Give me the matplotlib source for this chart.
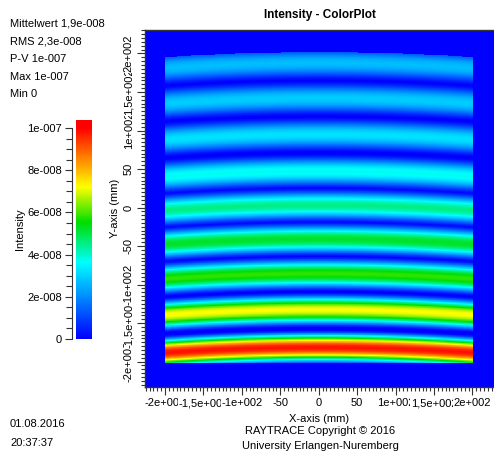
import numpy as np
import matplotlib
matplotlib.use('Agg')
import matplotlib.pyplot as plt
from matplotlib.colors import LinearSegmentedColormap, Normalize
from matplotlib.ticker import MultipleLocator, FixedLocator

plt.rcParams['font.family'] = ['Liberation Sans', 'DejaVu Sans']

W, H = 494, 453

# fringe centres (mm, on the x=0 line) and their peak intensity
fringe_y = [188, 142, 95, 47, 3, -41, -86, -133, -182]
fringe_peak = [2.7e-8, 2.9e-8, 3.2e-8, 3.7e-8, 4.5e-8, 5.2e-8, 5.8e-8, 7.2e-8, 9.8e-8]
fringe_period = 46.0
bow = 1.65e-4          # fringe sag towards the x edges (mm per mm^2)
field_half = 200.0     # illuminated square, +-200 mm

stats = ['Mittelwert 1,9e-008', 'RMS 2,3e-008', 'P-V 1e-007', 'Max 1e-007', 'Min 0']
axis_ticks = [-200, -150, -100, -50, 0, 50, 100, 150, 200]
axis_labels = ['-2e+002', '-1,5e+002', '-1e+002', '-50', '0', '50',
               '1e+002', '1,5e+002', '2e+002']
cbar_ticks = [0, 2e-8, 4e-8, 6e-8, 8e-8, 1e-7]
cbar_labels = ['0', '2e-008', '4e-008', '6e-008', '8e-008', '1e-007']

cmap = LinearSegmentedColormap.from_list('rt', [
    (0.00, (0.0, 0.0, 1.0)),
    (0.36, (0.0, 1.0, 1.0)),
    (0.55, (0.0, 0.87, 0.0)),
    (0.72, (1.0, 1.0, 0.0)),
    (0.86, (1.0, 0.5, 0.0)),
    (1.00, (1.0, 0.0, 0.0)),
])
norm = Normalize(0, 1e-7)


def px_box(x0, y0, x1, y1):
    return [x0 / W, 1 - y1 / H, (x1 - x0) / W, (y1 - y0) / H]


fig = plt.figure(figsize=(W / 100, H / 100), dpi=100)

# intensity map
xs = np.linspace(-230, 232, 900)
ys = np.linspace(-236, 234, 900)
X, Y = np.meshgrid(xs, ys)
U = Y + bow * X ** 2
I = np.zeros_like(X)
for yc, a in zip(fringe_y, fringe_peak):
    d = U - yc
    lobe = np.where(np.abs(d) < fringe_period / 2,
                    a * np.abs(np.cos(np.pi * d / fringe_period)) ** 1.4, 0.0)
    I = np.maximum(I, lobe)
inside = (np.abs(X) <= field_half) & (Y >= -202) & (U <= 202)
I[~inside] = 0.0

ax = fig.add_axes(px_box(145, 30, 494, 387))
ax.imshow(I, extent=[xs[0], xs[-1], ys[0], ys[-1]], origin='lower',
          cmap=cmap, norm=norm, interpolation='nearest', aspect='auto')
ax.set_xlim(-226, 228)
ax.set_ylim(-233, 230.5)
ax.spines['right'].set_visible(False)
for s in ['top', 'left', 'bottom']:
    ax.spines[s].set_color('#333333')
    ax.spines[s].set_linewidth(1.0)

for axis in (ax.xaxis, ax.yaxis):
    axis.set_major_locator(FixedLocator(axis_ticks))
    axis.set_minor_locator(MultipleLocator(5))
ax.set_xticklabels(axis_labels)
ax.set_yticklabels(axis_labels, rotation=90, va='center')
ax.tick_params(which='major', length=6, width=0.8, color='#333333',
               labelsize=8, pad=2)
ax.tick_params(which='minor', length=3, width=0.8, color='#333333')
for lab in ax.get_xticklabels() + ax.get_yticklabels():
    lab.set_bbox(dict(facecolor='white', edgecolor='none', pad=0.2))
ax.set_xlabel('X-axis (mm)', fontsize=8, labelpad=4)
ax.set_ylabel('Y-axis (mm)', fontsize=8, labelpad=3)

fig.text(320 / W, 1 - 15 / H, 'Intensity - ColorPlot', ha='center',
         va='center', fontsize=8.5, fontweight='bold')

# colour bar
cax = fig.add_axes(px_box(76, 120, 92, 339))
top = 1.038e-7
grad = np.linspace(0, top, 256).reshape(-1, 1)
cax.imshow(grad, extent=[0, 1, 0, top], origin='lower', cmap=cmap,
           norm=norm, aspect='auto')
cax.set_xlim(0, 1)
cax.set_ylim(0, top)
for s in ['top', 'right', 'bottom']:
    cax.spines[s].set_visible(False)
cax.spines['left'].set_position(('outward', 3))
cax.spines['left'].set_bounds(0, 1e-7)
cax.spines['left'].set_color('#333333')
cax.set_xticks([])
cax.yaxis.set_major_locator(FixedLocator(cbar_ticks))
cax.yaxis.set_minor_locator(MultipleLocator(5e-9))
cax.set_yticklabels(cbar_labels)
cax.tick_params(which='major', length=5, width=0.8, color='#333333',
                labelsize=8, pad=2)
cax.tick_params(which='minor', length=4, width=0.8, color='#333333')
cax.set_ylabel('Intensity', fontsize=8, labelpad=2)

# statistics and footer text
for i, line in enumerate(stats):
    fig.text(10 / W, 1 - (24 + i * 17.5) / H, line, ha='left', va='center',
             fontsize=8)
fig.text(10 / W, 1 - 424 / H, '01.08.2016', ha='left', va='center', fontsize=8)
fig.text(10 / W, 1 - 443 / H, '20:37:37', ha='left', va='center', fontsize=8)
fig.text(320 / W, 1 - 431 / H, 'RAYTRACE Copyright \u00a9 2016', ha='center',
         va='center', fontsize=8)
fig.text(320 / W, 1 - 446 / H, 'University Erlangen-Nuremberg', ha='center',
         va='center', fontsize=8)

fig.savefig('out.png', dpi=100)
